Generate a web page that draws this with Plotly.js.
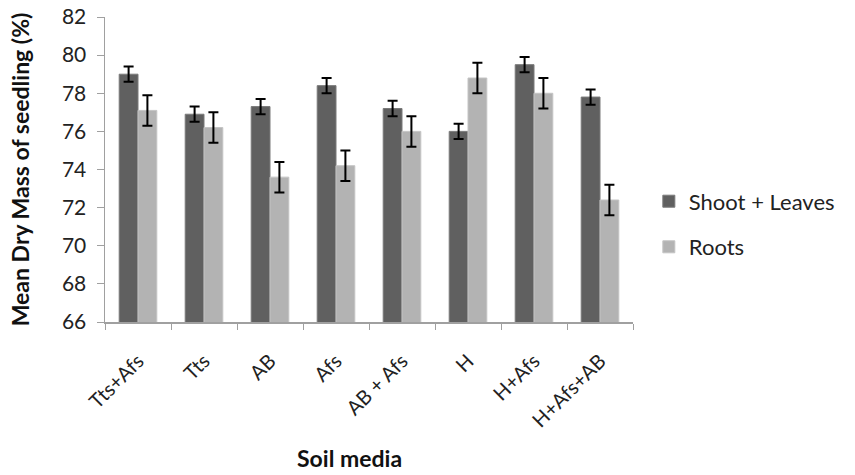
<!DOCTYPE html>
<html>
<head>
<meta charset="utf-8">
<script src="https://cdn.plot.ly/plotly-3.0.1.min.js"></script>
<style>html,body{margin:0;padding:0;background:#fff;}#chart{width:855px;height:475px;}</style>
</head>
<body>
<div id="chart"></div>
<script>
const categories = ["Tts+Afs", "Tts", "AB", "Afs", "AB + Afs", "H", "H+Afs", "H+Afs+AB"];
const shootLeaves = [79.0, 76.9, 77.3, 78.4, 77.2, 76.0, 79.5, 77.8];
const shootErr = [0.4, 0.4, 0.4, 0.4, 0.4, 0.4, 0.4, 0.4];
const roots = [77.1, 76.2, 73.6, 74.2, 76.0, 78.8, 78.0, 72.4];
const rootsErr = [0.8, 0.8, 0.8, 0.8, 0.8, 0.8, 0.8, 0.8];
const yTicks = [66, 68, 70, 72, 74, 76, 78, 80, 82];

const font = "Lato, 'Open Sans', sans-serif";

const traces = [
  {
    type: "bar", name: "Shoot + Leaves", x: categories, y: shootLeaves,
    legendgroup: "a",
    marker: {color: "#606060", line: {color: "#7a7a7a", width: 1}},
    error_y: {type: "data", array: shootErr, visible: true, color: "#000", thickness: 2, width: 5}
  },
  {
    type: "bar", name: "Roots", x: categories, y: roots,
    legendgroup: "b",
    marker: {color: "#b3b3b3", line: {color: "#c4c4c4", width: 1}},
    error_y: {type: "data", array: rootsErr, visible: true, color: "#000", thickness: 2, width: 5}
  }
];

const layout = {
  width: 855, height: 475,
  margin: {l: 105, r: 222, t: 17, b: 153, autoexpand: false},
  paper_bgcolor: "#fff", plot_bgcolor: "#fff",
  barmode: "group", bargap: 0.43, bargroupgap: 0,
  font: {family: font, color: "#222", size: 20},
  showlegend: true,
  legend: {x: 1.03, xanchor: "left", y: 0.32, yanchor: "middle",
           font: {family: font, size: 22, color: "#222"},
           tracegroupgap: 14, traceorder: "grouped", bgcolor: "rgba(0,0,0,0)"},
  xaxis: {
    type: "category", tickangle: -45, showgrid: false, zeroline: false,
    showline: true, linecolor: "#a0a0a0", linewidth: 1.5,
    ticks: "outside", ticklen: 6, tickcolor: "#a0a0a0", tickson: "boundaries",
    ticklabelstandoff: 18, automargin: false,
    tickfont: {family: font, size: 20, color: "#222"},
    title: {text: ""}
  },
  yaxis: {
    range: [66, 82], tickvals: yTicks, showgrid: false, zeroline: false,
    showline: true, linecolor: "#a0a0a0", linewidth: 1.5, automargin: false,
    ticks: "outside", ticklen: 7, tickcolor: "#a0a0a0", ticklabelstandoff: 6,
    tickfont: {family: font, size: 21, color: "#222"},
    title: {text: "<b>Mean Dry Mass of seedling (%)</b>", font: {family: font, size: 23, color: "#111"}, standoff: 26}
  },
  annotations: [
    {text: "<b>Soil media</b>", xref: "paper", yref: "paper", x: 0.464, y: -0.446,
     xanchor: "center", yanchor: "middle", showarrow: false,
     font: {family: font, size: 23, color: "#111"}}
  ]
};

Plotly.newPlot("chart", traces, layout, {displayModeBar: false, staticPlot: true});
</script>
</body>
</html>
